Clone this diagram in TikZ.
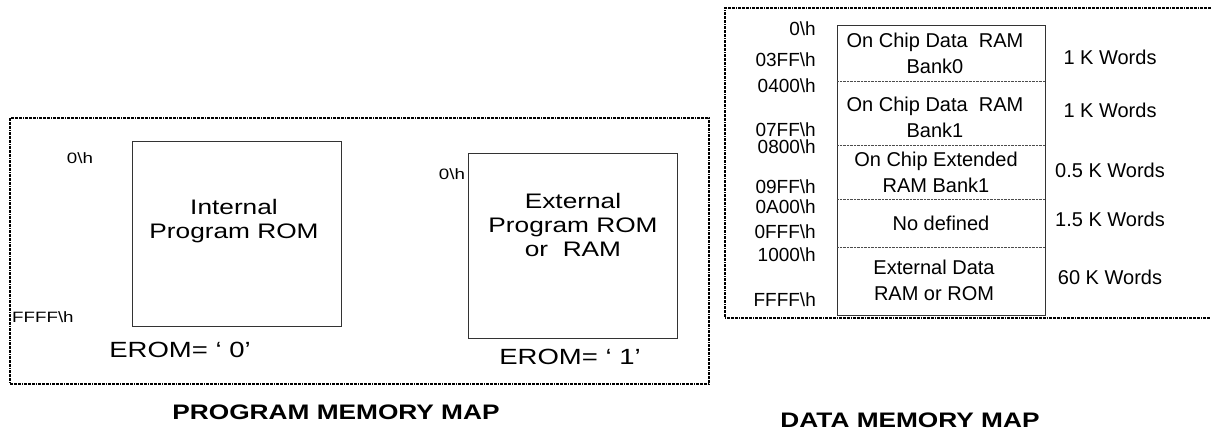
\documentclass[tikz,border=0pt]{standalone}
\usepackage{fontspec}
\setmainfont{Liberation Sans}
\newfontfamily\widesans[FakeStretch=1.25]{Liberation Sans}

\newcommand{\hsuf}{\textbackslash h}

\tikzset{
  frameline/.style={line width=1.2pt, dash pattern=on 3pt off 1pt on 3pt off 1pt on 3pt off 1pt on 1pt off 1pt},
  membox/.style={line width=0.9pt, draw=black!80},
  sepline/.style={line width=0.7pt, black!70, dash pattern=on 0.7pt off 0.7pt},
  progtxt/.style={inner sep=0pt, align=center, font=\widesans\fontsize{21}{24}\selectfont},
  eromtxt/.style={inner sep=0pt, font=\widesans\fontsize{22}{26}\selectfont},
  progaddr/.style={inner sep=0pt, font=\widesans\fontsize{15}{18}\selectfont},
  datatxt/.style={inner sep=0pt, align=center, font=\fontsize{20}{26}\selectfont},
  dataaddr/.style={inner sep=0pt, font=\fontsize{19}{22}\selectfont},
  title/.style={inner sep=0pt, font=\widesans\bfseries\fontsize{21}{25}\selectfont}
}

\begin{document}
\begin{tikzpicture}[x=1pt, y=-1pt]
    \useasboundingbox (0,0) rectangle (1211,432);

    % Program memory frame
    \draw[frameline] (10,118) rectangle (709,384);

    % Internal ROM (EROM = 0)
    \draw[membox] (132,141) rectangle (341,326);
    \node[progtxt] (introm) at (234,221) {Internal\\Program ROM};
    \node[progaddr] (intstart) at (80,158) {0\hsuf};
    \node[progaddr, anchor=west] (intend) at (12,317) {FFFF\hsuf};
    \node[eromtxt] (erom0) at (180,350) {EROM= ‘ 0’};

    % External ROM/RAM (EROM = 1)
    \draw[membox] (468,153) rectangle (677,338);
    \node[progtxt] (extrom) at (573,225) {External\\Program ROM\\or~ RAM};
    \node[progaddr] (extstart) at (452,174) {0\hsuf};
    \node[eromtxt] (erom1) at (570,357) {EROM= ‘ 1’};

    \node[title] (progtitle) at (336,412) {PROGRAM MEMORY MAP};

    % Data memory frame (open on the right)
    \draw[frameline] (1211,8) -- (725,8) -- (725,318) -- (1211,318);

    % Data memory banks
    \draw[membox] (837,25) rectangle (1045,315);
    \foreach \y in {81,145,199,247}
      \draw[sepline] (837,\y) -- (1045,\y);

    \node[datatxt] (bank0) at (935,53) {On Chip Data~ RAM\\Bank0};
    \node[datatxt] (bank1) at (935,117) {On Chip Data~ RAM\\Bank1};
    \node[datatxt] (extbank) at (936,172) {On Chip Extended\\RAM Bank1};
    \node[datatxt] (nodef) at (941,223) {No defined};
    \node[datatxt] (extdata) at (934,280) {External Data\\RAM or ROM};

    % Address labels
    \foreach \a/\y in {0/29, 03FF/60, 0400/86, 07FF/130, 0800/147, 09FF/187,
                       0A00/207, 0FFF/232, 1000/255, FFFF/300}
      \node[dataaddr, anchor=east] (addr\a) at (816,\y) {\a\hsuf};

    % Bank sizes
    \foreach \n/\y [count=\i] in {1/57, 1/110, 0.5/170, 1.5/219, 60/277}
      \node[datatxt] (size\i) at (1110,\y) {\n{} K Words};

    \node[title] (datatitle) at (910,420) {DATA MEMORY MAP};
\end{tikzpicture}
\end{document}
